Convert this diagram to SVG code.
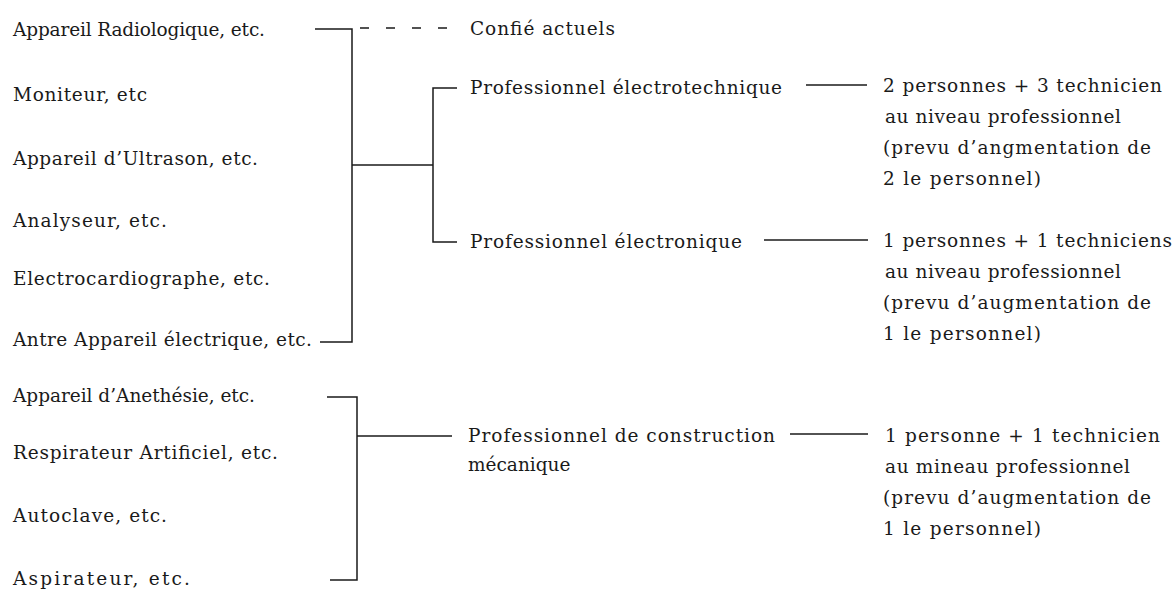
<svg xmlns="http://www.w3.org/2000/svg" width="1174" height="605" viewBox="0 0 1174 605">
<style>
text{font-family:"DejaVu Serif","Liberation Serif",serif;font-size:18.5px;fill:#1a1a1a}
.ln{stroke:#1a1a1a;stroke-width:1.5;fill:none}
.ds{stroke:#1a1a1a;stroke-width:1.4;fill:none;stroke-dasharray:9 17}
</style>
<rect width="1174" height="605" fill="#ffffff"/>
<g id="connectors">
<path class="ln" d="M315 29H352V342H320"/>
<path class="ds" d="M360 28H447"/>
<path class="ln" d="M352 165H433"/>
<path class="ln" d="M457 88H433V242H457"/>
<path class="ln" d="M806 85H867"/>
<path class="ln" d="M764 240H868"/>
<path class="ln" d="M327 397H357V580H330"/>
<path class="ln" d="M357 436H452"/>
<path class="ln" d="M790 434H868"/>
</g>
<g id="n-radiologique"><text x="13" y="36" textLength="252" lengthAdjust="spacing">Appareil Radiologique, etc.</text></g>
<g id="n-moniteur"><text x="13" y="101" textLength="134" lengthAdjust="spacing">Moniteur, etc</text></g>
<g id="n-ultrason"><text x="13" y="165" textLength="245" lengthAdjust="spacing">Appareil d’Ultrason, etc.</text></g>
<g id="n-analyseur"><text x="13" y="227" textLength="154" lengthAdjust="spacing">Analyseur, etc.</text></g>
<g id="n-electrocardiographe"><text x="13" y="285" textLength="257" lengthAdjust="spacing">Electrocardiographe, etc.</text></g>
<g id="n-antre"><text x="13" y="346" textLength="299" lengthAdjust="spacing">Antre Appareil électrique, etc.</text></g>
<g id="n-anethesie"><text x="13" y="402" textLength="242" lengthAdjust="spacing">Appareil d’Anethésie, etc.</text></g>
<g id="n-respirateur"><text x="13" y="459" textLength="265" lengthAdjust="spacing">Respirateur Artificiel, etc.</text></g>
<g id="n-autoclave"><text x="13" y="522" textLength="154" lengthAdjust="spacing">Autoclave, etc.</text></g>
<g id="n-aspirateur"><text x="13" y="585" textLength="177" lengthAdjust="spacing">Aspirateur, etc.</text></g>
<g id="n-confie"><text x="470" y="35" textLength="145" lengthAdjust="spacing">Confié actuels</text></g>
<g id="n-electrotechnique"><text x="470" y="94" textLength="312" lengthAdjust="spacing">Professionnel électrotechnique</text></g>
<g id="n-electronique"><text x="470" y="248" textLength="272" lengthAdjust="spacing">Professionnel électronique</text></g>
<g id="n-construction"><text x="468" y="442" textLength="307" lengthAdjust="spacing">Professionnel de construction</text><text x="468" y="471">mécanique</text></g>
<g id="n-staff1">
<text x="883" y="92" textLength="279" lengthAdjust="spacing">2 personnes + 3 technicien</text>
<text x="885" y="123" textLength="236" lengthAdjust="spacing">au niveau professionnel</text>
<text x="883" y="154" textLength="268" lengthAdjust="spacing">(prevu d’angmentation de</text>
<text x="883" y="185" textLength="158" lengthAdjust="spacing">2 le personnel)</text>
</g>
<g id="n-staff2">
<text x="883" y="247" textLength="289" lengthAdjust="spacing">1 personnes + 1 techniciens</text>
<text x="885" y="278" textLength="236" lengthAdjust="spacing">au niveau professionnel</text>
<text x="883" y="309" textLength="268" lengthAdjust="spacing">(prevu d’augmentation de</text>
<text x="883" y="340" textLength="158" lengthAdjust="spacing">1 le personnel)</text>
</g>
<g id="n-staff3">
<text x="885" y="442" textLength="275" lengthAdjust="spacing">1 personne + 1 technicien</text>
<text x="885" y="473" textLength="245" lengthAdjust="spacing">au mineau professionnel</text>
<text x="883" y="504" textLength="268" lengthAdjust="spacing">(prevu d’augmentation de</text>
<text x="883" y="535" textLength="158" lengthAdjust="spacing">1 le personnel)</text>
</g>
</svg>
